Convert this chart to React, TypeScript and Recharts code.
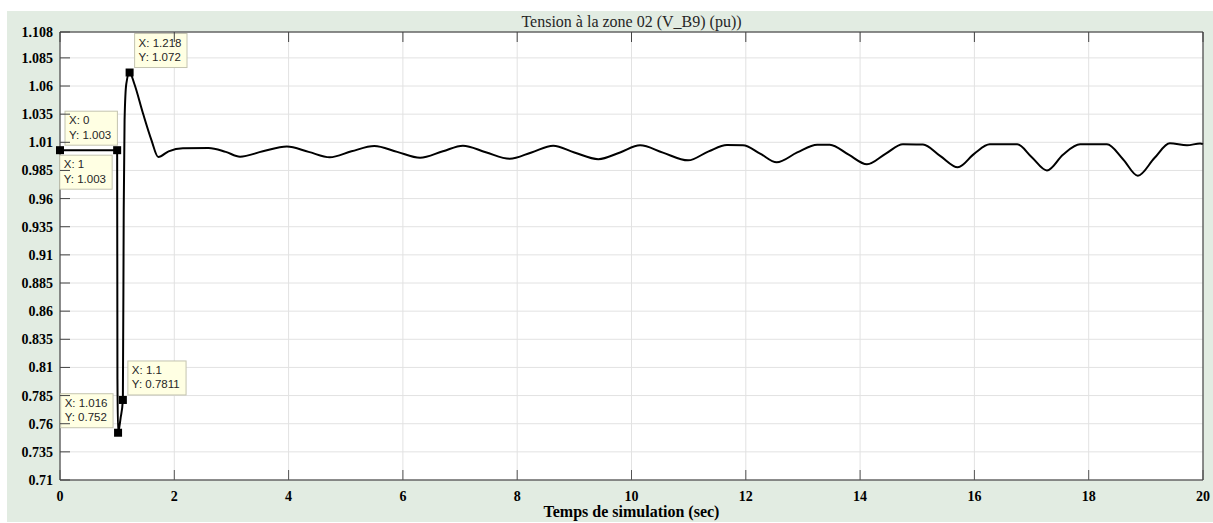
import React from "react";
import { LineChart, Line, XAxis, YAxis, CartesianGrid, ReferenceDot, Label } from "recharts";

// ---- data ----
const timeSec = [
  0, 1.0, 1.005, 1.016, 1.06, 1.1, 1.115, 1.13, 1.16, 1.218, 1.3, 1.45, 1.6, 1.72,
  1.9, 2.15, 2.6, 2.9, 3.15, 3.55, 3.97, 4.35, 4.72, 5.1, 5.5, 5.9, 6.3, 6.7, 7.05,
  7.45, 7.87, 8.25, 8.63, 9.0, 9.42, 9.8, 10.15, 10.55, 10.99, 11.35, 11.67, 11.95,
  12.25, 12.54, 12.9, 13.25, 13.47, 13.8, 14.12, 14.45, 14.75, 15.1, 15.4, 15.71,
  16.0, 16.27, 16.75, 17.0, 17.27, 17.55, 17.85, 18.32, 18.6, 18.86, 19.15, 19.42,
  19.72, 19.95, 20,
];
const voltagePu = [
  1.003, 1.003, 0.8, 0.752, 0.765, 0.7811, 0.95, 1.03, 1.062, 1.072, 1.062, 1.036, 1.012, 0.997,
  1.002, 1.0048, 1.005, 1.0015, 0.9972, 1.002, 1.0062, 1.0015, 0.9967, 1.002, 1.0067, 1.0015, 0.9963, 1.002, 1.007,
  1.0012, 0.9954, 1.001, 1.007, 1.001, 0.995, 1.001, 1.0073, 1.0008, 0.994, 1.002, 1.0076, 1.0074,
  1.0, 0.9922, 1.001, 1.0079, 1.0078, 0.999, 0.9905, 1.0, 1.0082, 1.0081, 0.998, 0.9878,
  1.0, 1.0082, 1.0082, 0.997, 0.985, 0.999, 1.0082, 1.0082, 0.995, 0.9803, 0.996, 1.0091,
  1.0073, 1.009, 1.0085,
];
const xTicks = [0, 2, 4, 6, 8, 10, 12, 14, 16, 18, 20];
const yTicks = [
  0.71, 0.735, 0.76, 0.785, 0.81, 0.835, 0.86, 0.885, 0.91, 0.935, 0.96, 0.985,
  1.01, 1.035, 1.06, 1.085, 1.108,
];
const yTickLabels = [
  "0.71", "0.735", "0.76", "0.785", "0.81", "0.835", "0.86", "0.885", "0.91", "0.935",
  "0.96", "0.985", "1.01", "1.035", "1.06", "1.085", "1.108",
];
const tipX = [0, 1, 1.016, 1.1, 1.218];
const tipY = [1.003, 1.003, 0.752, 0.7811, 1.072];
const titleText = "Tension à la zone 02 (V_B9) (pu))";
const xLabelText = "Temps de simulation (sec)";

// ---- styling ----
const tipSide = ["ne", "sw", "nw", "ne", "ne"];
const SERIF = '"Liberation Serif", "Times New Roman", serif';
const SANS = '"Liberation Sans", Arial, sans-serif';
const BG = "#e2ece2";
const AXIS = "#262626";

const data = timeSec.map((t, i) => ({ t, v: voltagePu[i] }));

const LeftTick = (p: any) => {
  const { x, y, payload } = p;
  const i = yTicks.findIndex((v) => Math.abs(v - payload.value) < 1e-9);
  return (
    <g>
      <line x1={x} x2={x + 10} y1={y} y2={y} stroke="#444" />
      <text x={x - 7} y={y} dy="0.36em" textAnchor="end" fontFamily={SERIF} fontWeight="bold" fontSize={14} fill="#000">
        {i >= 0 ? yTickLabels[i] : ""}
      </text>
    </g>
  );
};
const RightTick = (p: any) => {
  const { x, y } = p;
  return <line x1={x - 10} x2={x} y1={y} y2={y} stroke="#555" />;
};
const BottomTick = (p: any) => {
  const { x, y, payload } = p;
  return (
    <g>
      <line x1={x} x2={x} y1={y} y2={y - 10} stroke="#555" />
      <text x={x} y={y + 20.5} textAnchor="middle" fontFamily={SERIF} fontWeight="bold" fontSize={14} fill="#000">
        {String(payload.value)}
      </text>
    </g>
  );
};
const TopTick = (p: any) => {
  const { x, y } = p;
  return <line x1={x} x2={x} y1={y} y2={y + 10} stroke="#444" />;
};

const makeTip = (idx: number) => (p: any) => {
  const { cx, cy } = p;
  if (cx == null || cy == null) return <g />;
  const l1 = `X: ${tipX[idx]}`;
  const l2 = `Y: ${tipY[idx]}`;
  const chars = Math.max(l1.length, l2.length);
  const w = 6 + chars * 5.8;
  const h = 34;
  const gap = 5;
  const side = tipSide[idx];
  const bx = side === "ne" ? cx + gap : cx - gap - w;
  const by = side === "sw" ? cy + gap : cy - gap - h;
  return (
    <g>
      <rect x={bx} y={by} width={w} height={h} fill="#ffffe3" stroke="#c4c4b0" strokeWidth={1} />
      <text x={bx + 4} y={by + 13} fontFamily={SANS} fontSize={11.5} fill="#262626">{l1}</text>
      <text x={bx + 4} y={by + 27.5} fontFamily={SANS} fontSize={11.5} fill="#262626">{l2}</text>
      <rect x={cx - 4} y={cy - 4} width={8} height={8} fill="#000" />
    </g>
  );
};

export default function App() {
  return (
    <div style={{ position: "absolute", left: 7, top: 11, width: 1206, height: 511, background: BG }}>
      <LineChart width={1206} height={511} data={data} margin={{ top: 0, right: 0, bottom: 0, left: 0 }}>
        <CartesianGrid stroke="#e2e2e2" fill="#ffffff" strokeWidth={1} />
        <XAxis
          dataKey="t"
          type="number"
          domain={[0, 20]}
          ticks={xTicks}
          height={42}
          tickSize={0}
          tickMargin={0}
          tickLine={false}
          axisLine={{ stroke: AXIS, strokeWidth: 1 }}
          tick={BottomTick}
          interval={0}
        >
          <Label value={xLabelText} position="insideBottom" offset={5.5} fontFamily={SERIF} fontWeight="bold" fontSize={16} fill="#000" />
        </XAxis>
        <XAxis
          xAxisId="top"
          orientation="top"
          dataKey="t"
          type="number"
          domain={[0, 20]}
          ticks={xTicks}
          height={21}
          tickSize={0}
          tickMargin={0}
          tickLine={false}
          axisLine={{ stroke: AXIS, strokeWidth: 1 }}
          tick={TopTick}
          interval={0}
        >
          <Label value={titleText} position="center" fontFamily={SERIF} fontSize={16} fill="#262626" />
        </XAxis>
        <YAxis
          type="number"
          domain={[0.71, 1.108]}
          ticks={yTicks}
          width={53}
          tickSize={0}
          tickMargin={0}
          tickLine={false}
          axisLine={{ stroke: AXIS, strokeWidth: 1 }}
          tick={LeftTick}
          interval={0}
        />
        <YAxis
          yAxisId="right"
          orientation="right"
          type="number"
          domain={[0.71, 1.108]}
          ticks={yTicks}
          width={10}
          tickSize={0}
          tickMargin={0}
          tickLine={false}
          axisLine={{ stroke: AXIS, strokeWidth: 1 }}
          tick={RightTick}
          interval={0}
        />
        <Line
          type="monotone"
          dataKey="v"
          stroke="#000"
          strokeWidth={2}
          dot={false}
          isAnimationActive={false}
        />
        {tipX.map((x, i) => (
          <ReferenceDot key={i} x={x} y={tipY[i]} r={4} ifOverflow="visible" shape={makeTip(i)} />
        ))}
      </LineChart>
    </div>
  );
}
